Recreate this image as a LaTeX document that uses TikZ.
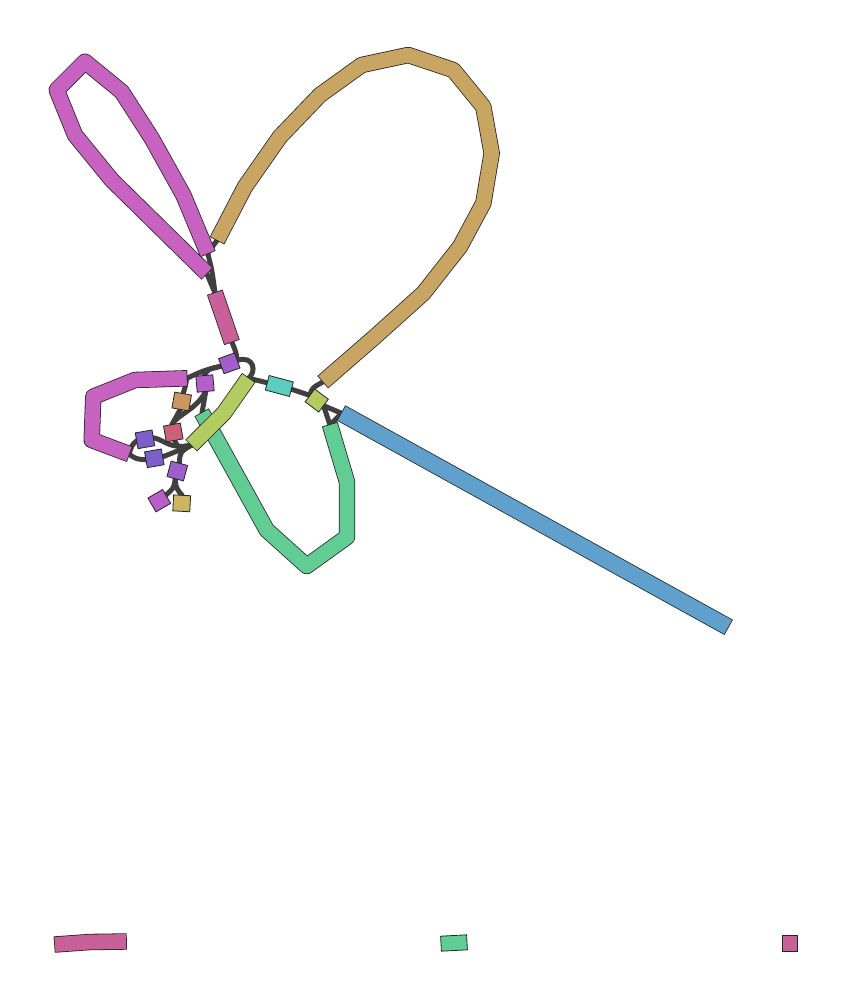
\documentclass[tikz,border=0pt]{standalone}
\usetikzlibrary{calc}
\pgfdeclarelayer{bg}
\pgfsetlayers{bg,main}
\definecolor{cpinkA}{RGB}{200,98,192}
\definecolor{ctan}{RGB}{200,165,98}
\definecolor{cpinkB}{RGB}{200,96,154}
\definecolor{cpurA}{RGB}{162,95,201}
\definecolor{clime}{RGB}{179,204,98}
\definecolor{cteal}{RGB}{94,204,190}
\definecolor{cblue}{RGB}{96,160,205}
\definecolor{cgreen}{RGB}{98,204,149}
\definecolor{cpurB}{RGB}{180,95,201}
\definecolor{corange}{RGB}{204,150,96}
\definecolor{cred}{RGB}{204,96,120}
\definecolor{cbpur}{RGB}{125,95,204}
\definecolor{cpurC}{RGB}{157,95,201}
\definecolor{cpurD}{RGB}{185,95,201}
\definecolor{cyel}{RGB}{204,181,96}
\definecolor{clink}{RGB}{64,64,64}
\tikzset{
  segout/.style={draw=black!85, line width=16.4pt, line join=round, shorten <=-0.8pt, shorten >=-0.8pt},
  segin/.style={line width=14.8pt, line join=round},
  lnk/.style={draw=clink, line width=5pt, line cap=round},
  sqn/.style={draw=black!85, line width=0.8pt, minimum width=17pt, minimum height=16pt, inner sep=0pt, outer sep=0pt},
}
\newcommand\seg[2]{\draw[segout] #2; \draw[segin, draw=#1] #2;}
\newcommand\wseg[2]{\draw[segout, line width=17.4pt] #2; \draw[segin, line width=15.8pt, draw=#1] #2;}
\begin{document}
\begin{tikzpicture}[x=1pt,y=-1pt]
\path[use as bounding box] (0,0) rectangle (845,1000);
% segment end coordinates
\coordinate (A2) at (207.7,253.3);
\coordinate (A1) at (206.7,273.3);
\coordinate (T1) at (217.3,240);
\coordinate (T2) at (323.3,381.7);
\coordinate (S2t) at (215,293);
\coordinate (S2b) at (231.7,341.7);
\coordinate (Lt) at (248.3,378.3);
\coordinate (Lb) at (191.7,445);
\coordinate (Gt) at (202,413);
\coordinate (Gr) at (330,425);
\coordinate (Bl) at (341.7,413.3);
\coordinate (Br) at (728,627);
\coordinate (P3t) at (186.7,378.3);
\coordinate (P3b) at (129,454);

% long segments
\seg{cpinkA}{(A2) -- (183.3,195) -- (151.7,138.3) -- (121.7,91.7) -- (85,61.7) -- (56.7,90) -- (75,135) -- (111.7,180) -- (A1)}
\seg{ctan}{(T1) -- (245,186.7) -- (280,136.7) -- (320,95) -- (361.7,65) -- (408.3,55) -- (453.3,70) -- (483.3,106.7) -- (491.7,153.3) -- (483.3,203.3) -- (460,246.7) -- (423.3,293.3) -- (375,336.7) -- (T2)}
\seg{cpinkB}{(S2t) -- (S2b)}
\wseg{cblue}{(Bl) -- (Br)}
\seg{cgreen}{(Gr) -- (347,482) -- (347,537) -- (306.7,566) -- (266.7,530) -- (238,478) -- (Gt)}
\seg{clime}{(Lt) -- (224,413) -- (Lb)}
\seg{cpinkA}{(P3t) -- (135,380) -- (93.3,396.7) -- (91.7,440) -- (P3b)}

% short segments
\node[sqn, fill=cpurA, rotate=20] (q1) at (229.3,363.3) {};
\node[sqn, fill=cteal, rotate=-15, minimum width=25pt, minimum height=15pt] (q2) at (279.3,386) {};
\node[sqn, fill=clime, rotate=-37] (q3) at (316.7,400.5) {};
\node[sqn, fill=cpurB, rotate=5] (q4) at (205,383.5) {};
\node[sqn, fill=corange, rotate=-10] (q5) at (181.7,401.5) {};
\node[sqn, fill=cred, rotate=10] (q6) at (173.3,432.5) {};
\node[sqn, fill=cbpur, rotate=10] (q7) at (145,439.3) {};
\node[sqn, fill=cbpur, rotate=10] (q8) at (154.3,458.3) {};
\node[sqn, fill=cpurC, rotate=-15] (q9) at (177.3,471) {};
\node[sqn, fill=cpurD, rotate=30] (q10) at (159.3,500.7) {};
\node[sqn, fill=cyel, rotate=-3] (q11) at (181.7,503.3) {};

% legend
\seg{cpinkB}{(55,944.5) -- (90,942) -- (126,941.5)}
\node[sqn, fill=cgreen, rotate=3, minimum width=26pt, minimum height=15pt] (lg2) at (454,943) {};
\node[sqn, fill=cpinkB, minimum width=15pt, minimum height=16pt] (lg3) at (790,943) {};

% links
\begin{pgfonlayer}{bg}
\draw[lnk] (T1) -- (A2);
\draw[lnk] (A2) .. controls (212,270) .. (S2t);
\draw[lnk] (A1) -- (S2t);
\draw[lnk] (S2b) .. controls (236,352) .. (q1.east);
\draw[lnk] (q1.east) .. controls (254,355) and (257,372) .. (Lt);
\draw[lnk] (Lt) .. controls (256,380) .. (q2.west);
\draw[lnk] (q1.west) .. controls (205,370) .. (P3t);
\draw[lnk] (q1.west) .. controls (208,369) .. (q4.north);
\draw[lnk] (P3t) .. controls (185,388) .. (q5.north);
\draw[lnk] (q4.south) .. controls (203,402) .. (Gt);
\draw[lnk] (q5.south) -- (q6.north);
\draw[lnk] (q4.south) .. controls (196,410) and (178,414) .. (q6.north);
\draw[lnk] (q6.south) .. controls (178,448) .. (Lb);
\draw[lnk] (P3b) .. controls (132,445) .. (q7.west);
\draw[lnk] (P3b) .. controls (136,459) .. (q8.west);
\draw[lnk] (q7.east) .. controls (165,440) and (170,450) .. (Lb);
\draw[lnk] (q8.east) .. controls (175,452) .. (Lb);
\draw[lnk] (q9.north) .. controls (180,452) .. (Lb);
\draw[lnk] (q9.south) .. controls (174,488) .. (q10);
\draw[lnk] (q9.south) .. controls (176,488) .. (q11.north);
\draw[lnk] (q2.east) -- (q3.west);
\draw[lnk] (T2) .. controls (312,388) .. (q3.west);
\draw[lnk] (q3.east) -- (Bl);
\draw[lnk] (q3.east) -- (Gr);
\draw[lnk] (Bl) -- (Gr);
\end{pgfonlayer}
\end{tikzpicture}
\end{document}
